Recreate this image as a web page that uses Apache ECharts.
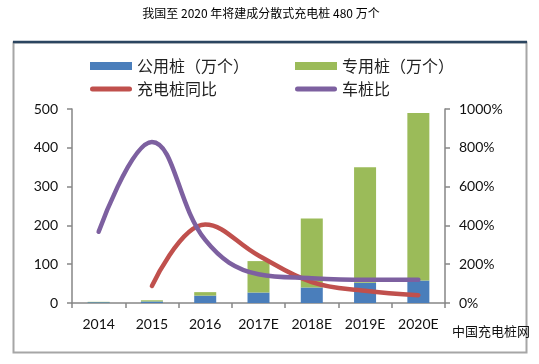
<!DOCTYPE html>
<html><head><meta charset="utf-8">
<script src="https://cdn.jsdelivr.net/npm/echarts@6/dist/echarts.min.js"></script>
<style>html,body{margin:0;padding:0;background:#fff;}#c{width:539px;height:364px;}</style>
</head><body><div id="c"></div>
<script>
const categories = ['2014','2015','2016','2017E','2018E','2019E','2020E'];
const publicPiles = [2, 4, 19, 27, 40, 52, 58];
const privatePiles = [1, 3, 9, 81, 178, 298, 432];
const pileYoY = [null, 88, 405, 245, 108, 63, 40];
const carPileRatio = [367, 830, 325, 148, 128, 120, 120];
const leftTicks = [0, 100, 200, 300, 400, 500];
const rightTicks = [0, 200, 400, 600, 800, 1000];

const chart = echarts.init(document.getElementById('c'), null, {renderer:'canvas'});
const latin = 'Lato, "Noto Sans CJK SC", sans-serif';
const cjk = '"Noto Sans CJK SC", sans-serif';
const lineIcon = 'path://M2.5,0 L39.5,0 A2.5,2.5 0 0 1 39.5,5 L2.5,5 A2.5,2.5 0 0 1 2.5,0 Z';
chart.setOption({
  animation: false,
  backgroundColor: '#fff',
  graphic: [
    {type:'rect', shape:{x:13.5,y:42.5,width:513,height:310}, style:{fill:'none', stroke:'#a6a6a6', lineWidth:2}, silent:true, z:-1},
    {type:'line', shape:{x1:13,y1:42,x2:527,y2:42}, style:{stroke:'#2b4560', lineWidth:2.5}, silent:true},
    {type:'text', x:261, y:7, style:{text:'我国至 2020 年将建成分散式充电桩 480 万个', font:'12px "Noto Sans CJK SC", sans-serif', fill:'#000', align:'center'}},
    {type:'text', x:491, y:325, style:{text:'中国充电桩网', font:'13px "Noto Sans CJK SC", sans-serif', fill:'#111', align:'center'}}
  ],
  legend: [
    {left:85, top:53, orient:'vertical', itemWidth:42, itemHeight:8, itemGap:7, symbolKeepAspect:true,
     textStyle:{fontFamily:cjk, fontSize:16, color:'#222'},
     data:[{name:'公用桩（万个）', icon:'rect'},{name:'充电桩同比', icon:lineIcon}]},
    {left:290, top:53, orient:'vertical', itemWidth:42, itemHeight:8, itemGap:7, symbolKeepAspect:true,
     textStyle:{fontFamily:cjk, fontSize:16, color:'#222'},
     data:[{name:'专用桩（万个）', icon:'rect'},{name:'车桩比', icon:lineIcon}]}
  ],
  grid: {left:72, right:94, top:109, bottom:61, containLabel:false},
  xAxis: {
    type:'category', data:categories, boundaryGap:true,
    axisLine:{lineStyle:{color:'#868686', width:1.5}},
    axisTick:{show:true, length:5, lineStyle:{color:'#868686', width:1.5}},
    axisLabel:{fontFamily:latin, fontSize:14, color:'#111', margin:14}
  },
  yAxis: [
    {type:'value', min:0, max:500, interval:100,
     axisLine:{show:true, lineStyle:{color:'#868686', width:1.5}},
     axisTick:{show:true, inside:false, length:5, lineStyle:{color:'#868686', width:1.5}},
     splitLine:{show:false},
     axisLabel:{fontFamily:latin, fontSize:14, color:'#111', margin:14}},
    {type:'value', min:0, max:1000, interval:200, position:'right',
     axisLine:{show:true, lineStyle:{color:'#868686', width:1.5}},
     axisTick:{show:true, length:5, lineStyle:{color:'#868686', width:1.5}},
     splitLine:{show:false},
     axisLabel:{fontFamily:latin, fontSize:14, color:'#111', margin:14, formatter:function(v){return String(v)+'%';}}}
  ],
  series: [
    {name:'公用桩（万个）', type:'bar', stack:'p', data:publicPiles, barWidth:22, itemStyle:{color:'#4a7ebb'}},
    {name:'专用桩（万个）', type:'bar', stack:'p', data:privatePiles, barWidth:22, itemStyle:{color:'#9bbb59'}},
    {name:'充电桩同比', type:'line', yAxisIndex:1, data:pileYoY, smooth:0.4, symbol:'none', connectNulls:false,
     lineStyle:{color:'#c0504d', width:4.5, cap:'round'}, itemStyle:{color:'#c0504d'}, z:3},
    {name:'车桩比', type:'line', yAxisIndex:1, data:carPileRatio, smooth:0.4, symbol:'none',
     lineStyle:{color:'#7d60a0', width:4.5, cap:'round'}, itemStyle:{color:'#7d60a0'}, z:4}
  ]
});
</script></body></html>
